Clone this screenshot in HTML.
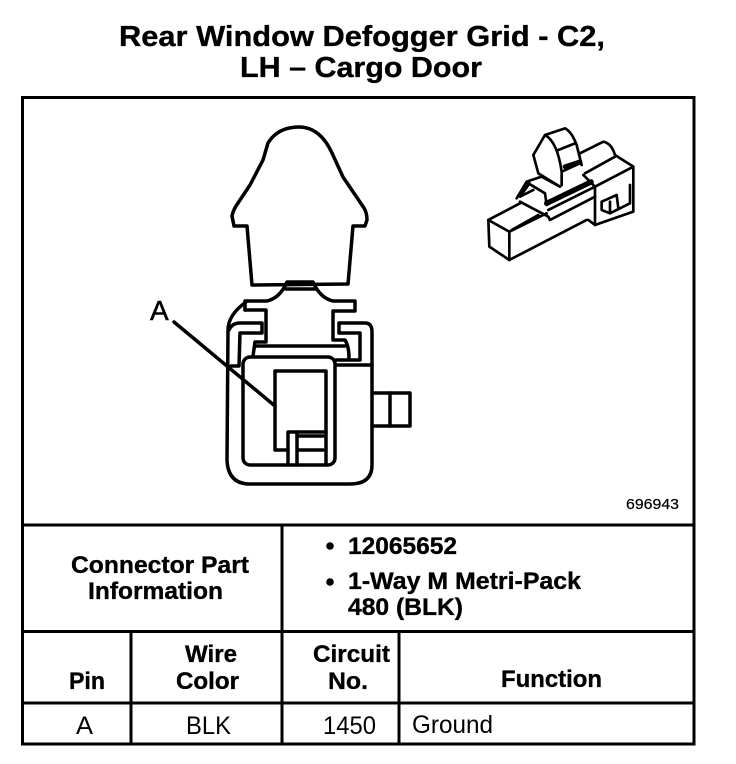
<!DOCTYPE html>
<html><head><meta charset="utf-8"><style>
html,body{margin:0;padding:0;background:#fff;width:736px;height:764px;overflow:hidden}
svg{display:block}
text{font-family:"Liberation Sans",sans-serif;fill:#000}
.b{font-weight:bold;font-size:24px;stroke:#000;stroke-width:.35px}
.r{font-size:25px}
</style></head><body>
<svg width="736" height="764" viewBox="0 0 736 764" xmlns="http://www.w3.org/2000/svg">
<text x="119" y="46" class="b" style="font-size:29px" textLength="486" lengthAdjust="spacingAndGlyphs">Rear Window Defogger Grid - C2,</text>
<text x="240" y="77" class="b" style="font-size:29px" textLength="242" lengthAdjust="spacingAndGlyphs">LH – Cargo Door</text>
<g stroke="#000" stroke-width="3" fill="none">
<rect x="22.5" y="97.5" width="671.5" height="646.5"/>
<path d="M23 525H694M23 631.5H694M23 703H694M282 525V744M131 631.5V744M399 631.5V744"/>
</g>
<!-- Main connector -->
<g stroke="#000" stroke-width="3.5" fill="none" stroke-linejoin="round" stroke-linecap="round">
<path d="M252 285 L247 226 L234 226 L232 216 Q233 211 236 206 L250 185 L263 160 L268 143 Q278 127 299 127 Q320 127 332 153 L343 177 L364 208 Q367 213 367 220 L365 226 L353 226 L348 284 Z" fill="#fff"/>
<path d="M245 310 V301 L267 301 Q280 298 287 282 H313 Q320 298 333 301 L355 301 V311 H333 V340 H345 Q349 346 349 358"/>
<path d="M286 289 H315"/>
<path d="M245 310 H266 V342 H255 L253 356"/>
<path d="M255 346 H345"/>
<path d="M246 302 Q228 315 228 330 L227 460 Q228 484 250 484 H350 Q372 484 372 465 V332 Q372 323 365 323 H339 V333 H360 V360 H336"/>
<path d="M229 330 Q232 323 240 323 H262 V333 H240 L239 366 H231"/>
<path d="M337 365 H372"/>
<rect x="243" y="357" width="92" height="108" rx="7"/>
<path d="M288 450 H275 V371 H326 V465"/>
<path d="M288 465 V432 H326"/>
<path d="M297 432 V465"/>
<path d="M298 436 H323 M298 450 H323"/>
<path d="M372 393 H410 V426 H372"/>
<path d="M390 393 V426"/>
<path d="M174 322 L275 406"/>
</g>
<text x="150" y="320" style="font-size:28px;stroke:#000;stroke-width:.5px">A</text>
<!-- Isometric connector -->
<g transform="translate(470 115) scale(.3333)" stroke="#000" stroke-width="8" fill="none" stroke-linejoin="round" stroke-linecap="round">
<path d="M55 315 L118 350 L118 435 L58 395 Z"/>
<path d="M55 315 L150 265 M118 350 L230 295 M118 435 L350 315 M125 345 L205 300"/>
<path d="M330 115 L400 80 Q425 85 435 120 L490 155 V290 L375 330 L355 315"/>
<path d="M375 215 L490 155 M375 245 V330 M345 175 L435 125"/>
<path d="M395 260 V285 L420 295 L480 265 V210 M395 260 L440 240 L445 280 M420 260 V295"/>
<path d="M140 250 L170 200 L215 185 L270 215 M150 260 L235 305 L240 315 L375 245 V215 L340 180"/>
<path d="M175 205 L225 235 L230 270 M190 225 L150 245"/>
<path d="M235 285 L375 215"/>
<path d="M230 265 L365 200" stroke-width="16" stroke-dasharray="8 2"/>
<path d="M150 240 L175 205" stroke-width="14"/>
<path d="M190 120 L225 60 L285 40 Q305 50 320 90 L335 150"/>
<path d="M225 60 Q262 80 275 170 M190 120 L205 175 L270 215 M275 170 V210 M275 170 L330 145 M265 105 L315 85"/>
<path d="M285 155 L330 140" stroke-width="14"/>
</g>
<text x="626" y="509" style="font-size:15px;stroke:#000;stroke-width:.2px" textLength="53" lengthAdjust="spacingAndGlyphs">696943</text>
<!-- Table text -->
<text x="71" y="573" class="b" textLength="178" lengthAdjust="spacingAndGlyphs">Connector Part</text>
<text x="88" y="599" class="b" textLength="135" lengthAdjust="spacingAndGlyphs">Information</text>
<circle cx="330" cy="546" r="3.8"/>
<circle cx="330" cy="582" r="3.8"/>
<text x="348" y="554" class="b" textLength="109" lengthAdjust="spacingAndGlyphs">12065652</text>
<text x="348" y="589" class="b" textLength="233" lengthAdjust="spacingAndGlyphs">1-Way M Metri-Pack</text>
<text x="348" y="615" class="b" textLength="115" lengthAdjust="spacingAndGlyphs">480 (BLK)</text>
<text x="69" y="689" class="b" textLength="36" lengthAdjust="spacingAndGlyphs">Pin</text>
<text x="185" y="662" class="b" textLength="52" lengthAdjust="spacingAndGlyphs">Wire</text>
<text x="176" y="689" class="b" textLength="63" lengthAdjust="spacingAndGlyphs">Color</text>
<text x="313" y="662" class="b" textLength="77" lengthAdjust="spacingAndGlyphs">Circuit</text>
<text x="328" y="689" class="b" textLength="40" lengthAdjust="spacingAndGlyphs">No.</text>
<text x="501" y="687" class="b" textLength="101" lengthAdjust="spacingAndGlyphs">Function</text>
<text x="76" y="734" class="r" textLength="17" lengthAdjust="spacingAndGlyphs">A</text>
<text x="186" y="734" class="r" textLength="45" lengthAdjust="spacingAndGlyphs">BLK</text>
<text x="323" y="734" class="r" textLength="53" lengthAdjust="spacingAndGlyphs">1450</text>
<text x="412" y="733" class="r" textLength="81" lengthAdjust="spacingAndGlyphs">Ground</text>
</svg>
</body></html>
